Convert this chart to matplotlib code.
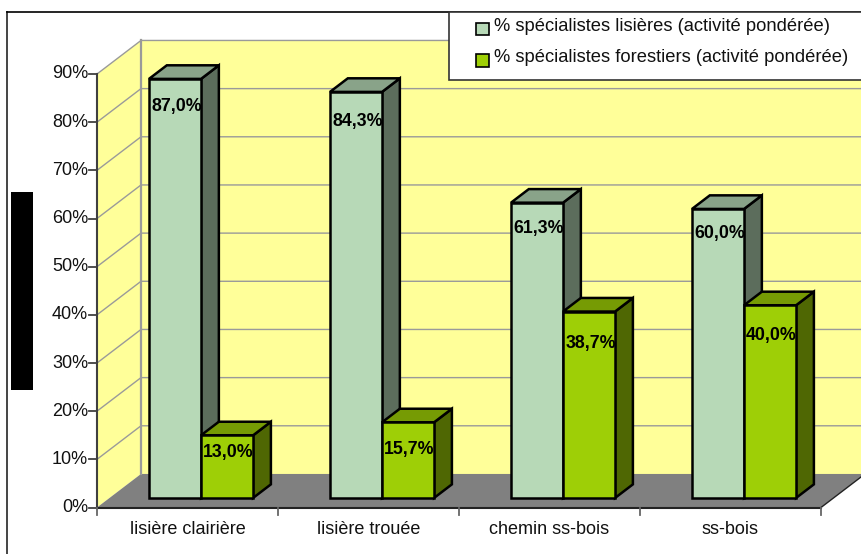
import matplotlib
matplotlib.use('Agg')
import matplotlib.pyplot as plt
from matplotlib.lines import Line2D
from matplotlib.patches import Polygon, Rectangle

plt.rcParams['font.family'] = ['Liberation Sans', 'DejaVu Sans']

categories = ['lisière clairière', 'lisière trouée', 'chemin ss-bois', 'ss-bois']
lisieres = [87.0, 84.3, 61.3, 60.0]
forestiers = [13.0, 15.7, 38.7, 40.0]
lisieres_labels = ['87,0%', '84,3%', '61,3%', '60,0%']
forestiers_labels = ['13,0%', '15,7%', '38,7%', '40,0%']
yticks = [0, 10, 20, 30, 40, 50, 60, 70, 80, 90]
legend_labels = ['% spécialistes lisières (activité pondérée)',
                 '% spécialistes forestiers (activité pondérée)']

W, H = 862, 554
fig = plt.figure(figsize=(W / 100, H / 100), dpi=100, facecolor='white')
# front edge of the 3D box, in pixels
left, right, y0, y90 = 97, 821, 507.5, 74
ax = fig.add_axes([left / W, 1 - y0 / H, (right - left) / W, (y0 - y90) / H])
ax.set_xlim(0, 4)
ax.set_ylim(0, 90)
ax.axis('off')

# depth of the box in data units
px_x = 1 / 181
px_y = 1 / 4.81
depth_x = 44 * px_x
depth_y = 33.5 * px_y


def proj(x, y, z):
    return (x + z * depth_x, y + z * depth_y)


def face(points, color, lw=0.0, ec='none', zorder=2):
    ax.add_patch(Polygon(points, closed=True, fc=color, ec=ec, lw=lw,
                         zorder=zorder, clip_on=False, joinstyle='miter'))


yellow = '#ffff99'
grid = '#9a9a9a'

# walls and floor
face([proj(0, 0, 0), proj(0, 90, 0), proj(0, 90, 1), proj(0, 0, 1)], yellow, zorder=1)
face([proj(0, 0, 1), proj(0, 90, 1), proj(4, 90, 1), proj(4, 0, 1)], yellow, zorder=1)
face([proj(0, 0, 0), proj(0, 0, 1), proj(4, 0, 1), proj(4, 0, 0)], '#808080', zorder=1)

for t in yticks[1:]:
    xs, ys = zip(proj(0, t, 0), proj(0, t, 1), proj(4, t, 1))
    ax.plot(xs, ys, color=grid, lw=1.0, zorder=1.5, clip_on=False)
xs, ys = zip(proj(0, 0, 1), proj(0, 90, 1))
ax.plot(xs, ys, color=grid, lw=1.6, zorder=1.5, clip_on=False)
xs, ys = zip(proj(4, 0, 0), proj(4, 0, 1))
ax.plot(xs, ys, color='#222222', lw=1, zorder=1.5, clip_on=False)

# axis lines and ticks
ax.plot([0, 0], [0, 90], color='#404040', lw=1.5, zorder=1.6, clip_on=False)
ax.plot([0, 4], [0, 0], color='#222222', lw=1.5, zorder=1.6, clip_on=False)
for t in yticks:
    ax.plot([-8 * px_x, 0], [t, t], color='#404040', lw=1.3, clip_on=False)
    ax.text(-9 * px_x, t, f'{t}%', ha='right', va='center', fontsize=13,
            color='#111111', clip_on=False)
for i in range(5):
    ax.plot([i, i], [0, -7 * px_y], color='#666666', lw=1.3, clip_on=False)
for i, c in enumerate(categories):
    ax.text(i + 0.5, -21.5 * px_y, c, ha='center', va='center', fontsize=13,
            color='#111111', clip_on=False)


def bar(x, width, val, front, top, side, order):
    z0, z1 = 0.285, 0.69
    edge = dict(ec='black', lw=1.8, zorder=order)
    face([proj(x + width, 0, z0), proj(x + width, val, z0), proj(x + width, val, z1), proj(x + width, 0, z1)], side, **edge)
    face([proj(x, val, z0), proj(x, val, z1), proj(x + width, val, z1), proj(x + width, val, z0)], top, **edge)
    face([proj(x, 0, z0), proj(x, val, z0), proj(x + width, val, z0), proj(x + width, 0, z0)], front, **edge)


def bar_label(x, val, drop, text):
    cx, cy = proj(x, val, 0.285)
    ax.text(cx + 1.5 * px_x, cy - drop * px_y, text, ha='center', va='center',
            fontsize=12.8, fontweight='bold', color='black', zorder=20, clip_on=False)


bar_w = 0.2875
start = 0.218
# how far below the bar top each label sits, in pixels
lisieres_drop = [28, 30, 26, 25]
forestiers_drop = [17, 27, 32, 30]
for i in range(4):
    x1 = i + start
    x2 = x1 + bar_w
    bar(x1, bar_w, lisieres[i], '#b7d9b7', '#89a389', '#5c6d5c', 3 + i * 2)
    bar(x2, bar_w, forestiers[i], '#9ecf06', '#769b04', '#4f6703', 4 + i * 2)
    bar_label(x1 + bar_w / 2, lisieres[i], lisieres_drop[i], lisieres_labels[i])
    bar_label(x2 + bar_w / 2, forestiers[i], forestiers_drop[i], forestiers_labels[i])


# frame, redaction bar, legend (figure coordinates)
def fig_rect(x, y, w, h, **kw):
    fig.add_artist(Rectangle((x / W, 1 - (y + h) / H), w / W, h / H,
                             transform=fig.transFigure, **kw))


# the frame only shows on the top and left, the rest is cropped away
fig.add_artist(Line2D([7 / W, 7 / W], [0, 1 - 12 / H], color='#444444', lw=1.4))
fig.add_artist(Line2D([7 / W, 1], [1 - 12 / H, 1 - 12 / H], color='black', lw=1.2))
fig_rect(11, 192, 22, 198, fc='black', ec='none')
fig_rect(449, 12, 420, 68, fc='white', ec='#333333', lw=1.2, zorder=30)
for ty, sy, c, lab in zip([26.5, 58], [28.5, 60.5], ['#b7d9b7', '#9ecf06'], legend_labels):
    fig_rect(476.5, sy - 6, 12.5, 12.5, fc=c, ec='black', lw=1.2, zorder=31)
    fig.text(494 / W, 1 - ty / H, lab, ha='left', va='center', fontsize=13.2,
             color='#111111', zorder=31)

fig.savefig('out.png', dpi=100)
